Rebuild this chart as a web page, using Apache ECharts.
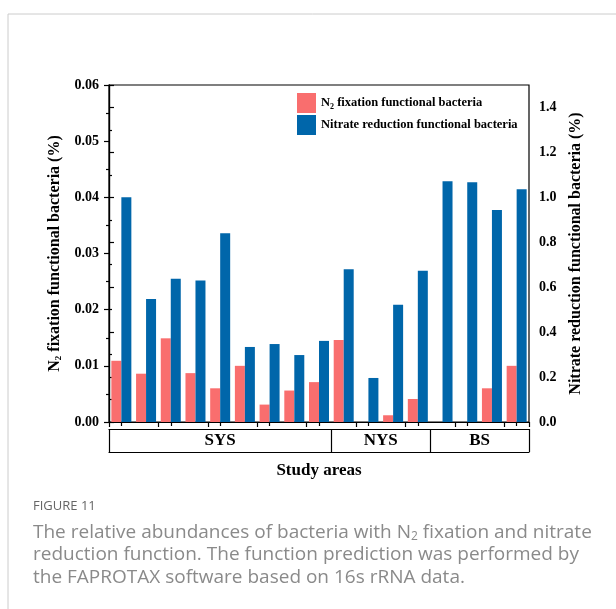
<!DOCTYPE html>
<html>
<head>
<meta charset="utf-8">
<style>
html,body{margin:0;padding:0;background:#fff;}
#chart{width:616px;height:609px;}
</style>
<script src="https://cdn.jsdelivr.net/npm/echarts@6/dist/echarts.min.js"></script>
</head>
<body>
<div id="chart"></div>
<script>
// ---- data ----
const groupNames = ['SYS', 'NYS', 'BS'];
const groupSizes = [9, 4, 4];
const categories = ['SYS-1','SYS-2','SYS-3','SYS-4','SYS-5','SYS-6','SYS-7','SYS-8','SYS-9',
                    'NYS-1','NYS-2','NYS-3','NYS-4','BS-1','BS-2','BS-3','BS-4'];
const n2Fixation = [0.0109, 0.0086, 0.0149, 0.0087, 0.0060, 0.0100, 0.0031, 0.0056, 0.0071,
                    0.0146, 0, 0.0012, 0.0041, 0, 0, 0.0060, 0.0100];
const nitrateReduction = [1.00, 0.547, 0.638, 0.630, 0.840, 0.334, 0.347, 0.298, 0.361,
                          0.680, 0.196, 0.522, 0.673, 1.072, 1.067, 0.944, 1.036];
const leftTicks = {min: 0, max: 0.06, interval: 0.01};
const rightTicks = {min: 0, max: 1.5, interval: 0.2};
const seriesNames = ['N2 fixation functional bacteria', 'Nitrate reduction functional bacteria'];

// group boundaries and centres
const bounds = [0];
groupSizes.forEach(s => bounds.push(bounds[bounds.length - 1] + s));
const centres = groupSizes.map((s, i) => bounds[i] + s / 2);

const serif = '"Liberation Serif", "Times New Roman", serif';
const RED = '#F96E6E', BLUE = '#0066AA';
const subRich = {
  sub: {fontSize: 9, fontWeight: 'bold', fontFamily: serif, verticalAlign: 'bottom', padding: [8, 0, 0, 0]}
};

const chart = echarts.init(document.getElementById('chart'));
chart.setOption({
  animation: false,
  backgroundColor: '#fff',
  grid: {left: 109, right: 87, top: 85, bottom: 187, show: true, borderColor: '#000', borderWidth: 1.2, backgroundColor: 'transparent'},
  legend: {
    orient: 'vertical', left: 297, top: 93, padding: 0, itemWidth: 19, itemHeight: 20, itemGap: 2,
    icon: 'rect',
    data: seriesNames,
    formatter: name => name.replace('N2', 'N{sub|2}'),
    textStyle: {fontFamily: serif, fontWeight: 'bold', fontSize: 12.5, color: '#000', rich: {sub: {fontSize: 8, fontWeight: 'bold', fontFamily: serif, padding: [7, 0, 0, 0]}}}
  },
  xAxis: [
    {
      type: 'category', data: categories, position: 'bottom',
      axisLine: {show: true, lineStyle: {color: '#000', width: 1.2}},
      axisTick: {show: true, alignWithLabel: false, length: 5, lineStyle: {color: '#000', width: 1.2}},
      axisLabel: {show: false}, splitLine: {show: false}
    },
    {
      type: 'category', data: categories, position: 'bottom',
      axisLine: {show: false},
      axisTick: {show: true, alignWithLabel: true, length: 4, lineStyle: {color: '#000', width: 1.2}},
      axisLabel: {show: false}, splitLine: {show: false}
    },
    {
      type: 'value', min: 0, max: categories.length, position: 'bottom', offset: 7,
      axisLine: {show: true, lineStyle: {color: '#000', width: 1.2}},
      axisTick: {show: false}, axisLabel: {show: false}, splitLine: {show: false}
    },
    {
      type: 'value', min: 0, max: categories.length, position: 'bottom', offset: 30,
      axisLine: {show: true, lineStyle: {color: '#000', width: 1.2}},
      axisTick: {show: true, inside: true, length: 23, customValues: bounds, lineStyle: {color: '#000', width: 1.2}},
      axisLabel: {
        show: true, customValues: centres, margin: -20,
        formatter: v => groupNames[centres.indexOf(v)] || '',
        fontFamily: serif, fontWeight: 'bold', fontSize: 17, color: '#000'
      },
      splitLine: {show: false},
      name: 'Study areas', nameLocation: 'middle', nameGap: 10,
      nameTextStyle: {fontFamily: serif, fontWeight: 'bold', fontSize: 17, color: '#000'}
    }
  ],
  yAxis: [
    {
      type: 'value', position: 'left', min: leftTicks.min, max: leftTicks.max, interval: leftTicks.interval,
      axisLine: {show: true, lineStyle: {color: '#000', width: 1.2}},
      axisTick: {show: true, length: 5, lineStyle: {color: '#000', width: 1.2}},
      minorTick: {show: true, splitNumber: 2, length: 3, lineStyle: {color: '#000', width: 1.2}},
      axisLabel: {formatter: v => v.toFixed(2), fontFamily: serif, fontWeight: 'bold', fontSize: 14, color: '#000', margin: 10},
      splitLine: {show: false},
      name: 'N{sub|2} fixation functional bacteria (%)', nameLocation: 'middle', nameGap: 38,
      nameTextStyle: {fontFamily: serif, fontWeight: 'bold', fontSize: 16, color: '#000', rich: subRich}
    },
    {
      type: 'value', position: 'right', min: rightTicks.min, max: rightTicks.max, interval: rightTicks.interval,
      axisLine: {show: true, lineStyle: {color: '#000', width: 1.2}},
      axisTick: {show: true, length: 5, lineStyle: {color: '#000', width: 1.2}},
      minorTick: {show: true, splitNumber: 2, length: 3, lineStyle: {color: '#000', width: 1.2}},
      axisLabel: {formatter: v => v.toFixed(1), showMaxLabel: false, fontFamily: serif, fontWeight: 'bold', fontSize: 14, color: '#000', margin: 10},
      splitLine: {show: false},
      name: 'Nitrate reduction functional bacteria (%)', nameLocation: 'middle', nameGap: 36,
      nameTextStyle: {fontFamily: serif, fontWeight: 'bold', fontSize: 16, color: '#000'}
    }
  ],
  series: [
    {name: seriesNames[0], type: 'bar', xAxisIndex: 0, yAxisIndex: 0, data: n2Fixation,
     barWidth: 10, barGap: '0%', itemStyle: {color: RED}},
    {name: seriesNames[1], type: 'bar', xAxisIndex: 0, yAxisIndex: 1, data: nitrateReduction,
     barWidth: 10, barGap: '0%', itemStyle: {color: BLUE}}
  ],
  graphic: [
    {type: 'rect', silent: true, shape: {x: 8, y: 14, width: 700, height: 700},
     style: {fill: 'none', stroke: '#cccccc', lineWidth: 1}},
    {type: 'text', left: 33, top: 500,
     style: {text: 'FIGURE 11', font: '13px "Open Sans", sans-serif', fill: '#666666'}},
    {type: 'text', left: 33, top: 521,
     style: {
       text: 'The relative abundances of bacteria with N{s|2} fixation and nitrate\nreduction function. The function prediction was performed by\nthe FAPROTAX software based on 16s rRNA data.',
       font: '19px "Open Sans", sans-serif', fill: '#8a8a8a', lineHeight: 22.5,
       rich: {s: {fontSize: 12, fontFamily: '"Open Sans", sans-serif', fill: '#8a8a8a', padding: [8, 0, 0, 0]}}
     }}
  ]
});
</script>
</body>
</html>
